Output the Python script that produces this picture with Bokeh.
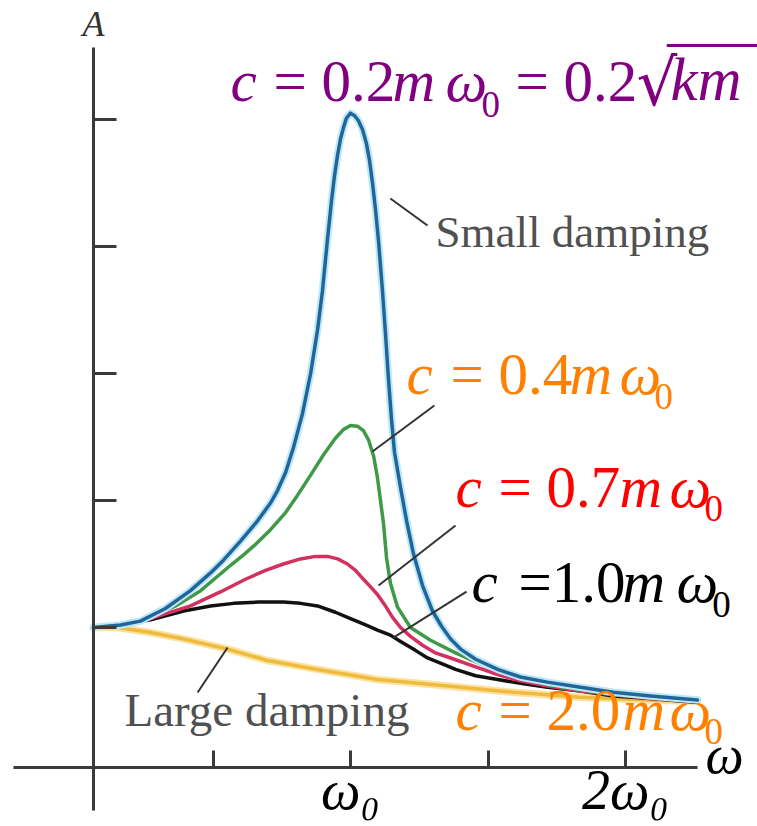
from bokeh.plotting import figure
from bokeh.models import LinearAxis, FixedTicker, Label, Arrow, Range1d
from bokeh.embed import file_html
from bokeh.resources import INLINE

# ---- data: x = omega/omega0, y = A/A0 ----
w_02 = [0.065, 0.164, 0.236, 0.327, 0.418, 0.491, 0.538, 0.600, 0.662, 0.709, 0.735, 0.764, 0.793, 0.825,
        0.855, 0.880, 0.898, 0.916, 0.931, 0.942, 0.953, 0.964, 0.975, 0.985, 1.000, 1.015, 1.029, 1.044,
        1.058, 1.069, 1.080, 1.091, 1.102, 1.116, 1.127, 1.138, 1.149, 1.160, 1.182, 1.204, 1.229, 1.262,
        1.298, 1.331, 1.364, 1.400, 1.455, 1.535, 1.618, 1.716, 1.836, 1.956, 2.091, 2.262]
A_02 = [1.00, 1.02, 1.05, 1.15, 1.29, 1.43, 1.53, 1.68, 1.84, 1.98, 2.08, 2.22, 2.42, 2.68,
        3.00, 3.34, 3.65, 4.05, 4.36, 4.56, 4.72, 4.85, 4.94, 5.01, 5.05, 5.03, 4.99, 4.92,
        4.81, 4.68, 4.50, 4.29, 4.04, 3.66, 3.32, 2.96, 2.64, 2.38, 2.10, 1.84, 1.58, 1.33,
        1.13, 1.01, 0.91, 0.83, 0.75, 0.67, 0.61, 0.57, 0.53, 0.49, 0.46, 0.43]

w_04 = [0.065, 0.164, 0.273, 0.364, 0.455, 0.564, 0.610, 0.655, 0.709, 0.764, 0.807, 0.855, 0.902, 0.945,
        0.975, 1.000, 1.025, 1.047, 1.065, 1.084, 1.098, 1.109, 1.120, 1.131, 1.145, 1.171, 1.218, 1.291,
        1.382, 1.455, 1.535, 1.618, 1.716, 1.836, 1.956, 2.091, 2.262]
A_04 = [1.00, 1.02, 1.08, 1.17, 1.29, 1.49, 1.57, 1.655, 1.77, 1.905, 2.04, 2.20, 2.36, 2.49,
        2.56, 2.59, 2.585, 2.55, 2.48, 2.35, 2.18, 2.00, 1.82, 1.55, 1.35, 1.16, 1.00, 0.90,
        0.80, 0.73, 0.66, 0.61, 0.55, 0.51, 0.47, 0.45, 0.42]

w_07 = [0.065, 0.164, 0.273, 0.418, 0.527, 0.618, 0.691, 0.756, 0.818, 0.873, 0.916, 0.953, 0.989, 1.018,
        1.047, 1.073, 1.098, 1.124, 1.153, 1.182, 1.218, 1.262, 1.309, 1.364, 1.455, 1.535, 1.618, 1.716,
        1.836, 1.956, 2.091, 2.262]
A_07 = [1.00, 1.02, 1.07, 1.17, 1.28, 1.38, 1.45, 1.50, 1.54, 1.56, 1.56, 1.54, 1.50, 1.45,
        1.38, 1.32, 1.26, 1.18, 1.08, 1.00, 0.93, 0.86, 0.80, 0.76, 0.69, 0.63, 0.58, 0.54,
        0.50, 0.47, 0.44, 0.42]

w_10 = [0.065, 0.153, 0.273, 0.393, 0.491, 0.575, 0.665, 0.756, 0.818, 0.880, 0.945, 1.000, 1.055, 1.098,
        1.145, 1.182, 1.236, 1.280, 1.327, 1.382, 1.455, 1.535, 1.618, 1.716, 1.836, 1.956, 2.091, 2.262]
A_10 = [1.00, 1.01, 1.06, 1.13, 1.17, 1.19, 1.20, 1.20, 1.19, 1.17, 1.12, 1.07, 1.02, 0.98,
        0.94, 0.89, 0.82, 0.76, 0.72, 0.67, 0.62, 0.59, 0.56, 0.53, 0.50, 0.46, 0.44, 0.41]

w_20 = [0.065, 0.153, 0.273, 0.393, 0.553, 0.698, 0.880, 1.098, 1.353, 1.593, 1.836, 2.080, 2.262]
A_20 = [1.00, 1.00, 0.96, 0.91, 0.83, 0.74, 0.67, 0.59, 0.54, 0.49, 0.45, 0.43, 0.42]

x_ticks = [0.5, 1.0, 1.5, 2.0]
x_tick_labels = {0.5: "", 1.0: "ω₀", 1.5: "", 2.0: "2ω₀"}
y_ticks = [1, 2, 3, 4, 5]

# ---- figure ----
p = figure(width=757, height=826, x_range=Range1d(-0.27273, 2.48), y_range=Range1d(-0.56693, 5.93701),
           x_axis_type=None, y_axis_type=None, toolbar_location=None, output_backend="svg",
           min_border=0, outline_line_color=None, background_fill_color="white")
p.title.visible = False

AX = "#3a3a3a"
xax = LinearAxis(fixed_location=-0.1024, bounds=(-0.2255, 2.2618), ticker=FixedTicker(ticks=x_ticks),
                 major_label_overrides=x_tick_labels, major_tick_in=17, major_tick_out=0,
                 minor_tick_line_color=None, axis_line_width=3, axis_line_color=AX,
                 major_tick_line_width=3, major_tick_line_color=AX,
                 major_label_text_font="Liberation Serif", major_label_text_font_style="italic",
                 major_label_text_font_size="56px", major_label_text_color="black",
                 major_label_standoff=-9)
p.add_layout(xax, "below")

yax = LinearAxis(fixed_location=0.0655, bounds=(-0.441, 5.567), ticker=FixedTicker(ticks=y_ticks),
                 major_label_overrides={t: "" for t in y_ticks}, major_tick_in=23, major_tick_out=0,
                 minor_tick_line_color=None, axis_line_width=3, axis_line_color=AX,
                 major_tick_line_width=3, major_tick_line_color=AX)
p.add_layout(yax, "left")

# ---- curves ----
p.line(w_20, A_20, line_color="#fbe2a0", line_width=7.5, line_join="round", line_cap="round")
p.line(w_20, A_20, line_color="#efbb3f", line_width=3.5, line_join="round", line_cap="round")
p.line(w_10, A_10, line_color="#111111", line_width=3.5, line_join="round", line_cap="round")
p.line(w_07, A_07, line_color="#d2305f", line_width=3.5, line_join="round", line_cap="round")
p.line(w_04, A_04, line_color="#3e9a46", line_width=3.5, line_join="round", line_cap="round")
p.line(w_02, A_02, line_color="#bfe8f7", line_width=7.5, line_join="round", line_cap="round")
p.line(w_02, A_02, line_color="#21669a", line_width=3.5, line_join="round", line_cap="round")

# ---- leader lines ----
LEAD = "#333333"
leaders = [((1.145, 4.378), (1.280, 4.165)),   # Small damping
           ((0.444, 0.488), (0.553, 0.843)),   # Large damping
           ((1.080, 2.386), (1.305, 2.748)),   # c = 0.4
           ((1.102, 1.331), (1.382, 1.803)),   # c = 0.7
           ((1.156, 0.921), (1.422, 1.283))]   # c = 1.0
for (xs, ys), (xe, ye) in leaders:
    p.add_layout(Arrow(end=None, x_start=xs, y_start=ys, x_end=xe, y_end=ye,
                       line_color=LEAD, line_width=2))

SERIF = "Liberation Serif"
Y_PER_PX = 1 / 127.0


def lab(x, y, text, color, size=59, style="normal", font=SERIF, align="left"):
    # y is the wanted text baseline; small lift so the glyph baseline lands there
    p.add_layout(Label(x=x, y=y + 0.37 * size * Y_PER_PX, text=text, text_color=color, text_font=font,
                       text_font_size=f"{size}px", text_font_style=style, text_align=align,
                       text_baseline="alphabetic"))


def clabel(color, yb, ys, xc, xeq, eqtext, xm, xw, xs):
    lab(xc, yb, "c", color, style="italic")
    lab(xeq, yb, eqtext, color)
    lab(xm, yb, "m", color, style="italic")
    lab(xw, yb, "ω", color, style="italic")
    lab(xs, ys, "0", color, size=37)


PURPLE = "#800080"
ORANGE = "#ff8000"
RED = "#ff0000"
clabel(PURPLE, 5.134, 5.008, 0.5636, 0.7200, "= 0.2", 1.1527, 1.3455, 1.4764)
lab(1.600, 5.134, "= 0.2", PURPLE)
lab(2.040, 5.10, "√", PURPLE, size=64, font="DejaVu Serif")
lab(2.1636, 5.134, "km", PURPLE, size=61, style="italic")
p.add_layout(Arrow(end=None, x_start=2.150, y_start=5.583, x_end=2.48, y_end=5.583,
                   line_color=PURPLE, line_width=3))

clabel(ORANGE, 2.827, 2.709, 1.2036, 1.3636, "= 0.4", 1.7964, 1.978, 2.1055)
clabel(RED, 1.937, 1.827, 1.3818, 1.5382, "= 0.7", 1.978, 2.160, 2.2873)
clabel("black", 1.189, 1.071, 1.440, 1.6109, "=1.0", 1.989, 2.185, 2.315)
clabel(ORANGE, 0.181, 0.071, 1.3818, 1.5382, "= 2.0", 1.989, 2.160, 2.2873)

GRAY = "#505050"
lab(1.309, 3.984, "Small damping", GRAY, size=45)
lab(0.178, 0.213, "Large damping", GRAY, size=47)

lab(0.0655, 5.646, "A", "#333333", size=36, style="italic", align="center")
lab(2.291, -0.165, "ω", "black", size=54, style="italic")

open("out.html", "w").write(file_html(p, INLINE))
